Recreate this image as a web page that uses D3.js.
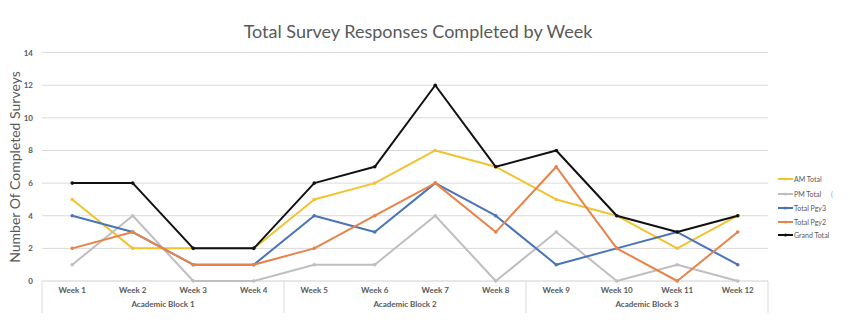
<!DOCTYPE html>
<html><head><meta charset="utf-8">
<script src="https://cdnjs.cloudflare.com/ajax/libs/d3/7.8.5/d3.min.js"></script>
<style>body{margin:0;background:#fff;}svg{display:block;font-family:Lato,"Open Sans",sans-serif;}</style>
</head><body><svg id="c" width="850" height="330"></svg>
<script>
const weeks = ["Week 1","Week 2","Week 3","Week 4","Week 5","Week 6","Week 7","Week 8","Week 9","Week 10","Week 11","Week 12"];
const blocks = ["Academic Block 1","Academic Block 2","Academic Block 3"];
const amTotal   = [5,2,2,2,5,6,8,7,5,4,2,4];
const pmTotal   = [1,4,0,0,1,1,4,0,3,0,1,0];
const pgy3      = [4,3,1,1,4,3,6,4,1,2,3,1];
const pgy2      = [2,3,1,1,2,4,6,3,7,2,0,3];
const grandTotal= [6,6,2,2,6,7,12,7,8,4,3,4];
const yTicks = [0,2,4,6,8,10,12,14];
const seriesNames = ["AM Total","PM Total","Total Pgy3","Total Pgy2","Grand Total"];
const seriesColors = ["#F0C430","#BFBFBF","#4A73B8","#E8834A","#111111"];
const seriesData = [amTotal,pmTotal,pgy3,pgy2,grandTotal];

const svg = d3.select("#c");
const L=42, R=768, T=52.6, B=281;
const x = d3.scaleBand().domain(weeks).range([L,R]);
const y = d3.scaleLinear().domain([0,14]).range([B,T]);

svg.append("text").attr("x",418).attr("y",38).attr("text-anchor","middle")
  .attr("font-size",18).attr("fill","#595959").attr("font-weight",400)
  .text("Total Survey Responses Completed by Week");

// gridlines
svg.append("g").selectAll("line").data(yTicks.filter(d=>d>0)).join("line")
  .attr("x1",L).attr("x2",R).attr("y1",d=>y(d)).attr("y2",d=>y(d))
  .attr("stroke","#D9D9D9").attr("stroke-width",1);

// y tick labels
svg.append("g").selectAll("text").data(yTicks).join("text")
  .attr("x",33).attr("y",d=>y(d)+3).attr("text-anchor","end")
  .attr("font-size",8).attr("fill","#595959").attr("font-weight",700).text(d=>d);

svg.append("text").attr("transform","translate(20,"+(167)+") rotate(-90)")
  .attr("text-anchor","middle").attr("font-size",14).attr("fill","#595959")
  .text("Number Of Completed Surveys");

// x axis
svg.append("line").attr("x1",L).attr("x2",R).attr("y1",B).attr("y2",B).attr("stroke","#D0D0D0");
const sepIdx=[0,4,8,12];
svg.append("g").selectAll("line").data(sepIdx).join("line")
  .attr("x1",d=>L+d*x.bandwidth()).attr("x2",d=>L+d*x.bandwidth())
  .attr("y1",B).attr("y2",313).attr("stroke","#D9D9D9");
svg.append("g").selectAll("text").data(weeks).join("text")
  .attr("x",d=>x(d)+x.bandwidth()/2).attr("y",293).attr("text-anchor","middle")
  .attr("font-size",8).attr("font-weight",700).attr("fill","#595959").text(d=>d);
svg.append("g").selectAll("text").data(blocks).join("text")
  .attr("x",(d,i)=>L+(i*4+2)*x.bandwidth()).attr("y",307).attr("text-anchor","middle")
  .attr("font-size",8).attr("font-weight",700).attr("fill","#595959").text(d=>d);

// lines
const line = d3.line().x((d,i)=>x(weeks[i])+x.bandwidth()/2).y(d=>y(d));
seriesData.forEach((s,k)=>{
  svg.append("path").datum(s).attr("d",line).attr("fill","none")
    .attr("stroke",seriesColors[k]).attr("stroke-width",2).attr("stroke-linejoin","round");
  svg.append("g").selectAll("circle").data(s).join("circle")
    .attr("cx",(d,i)=>x(weeks[i])+x.bandwidth()/2).attr("cy",d=>y(d)).attr("r",1.8)
    .attr("fill",seriesColors[k]);
});

// legend
const lg = svg.append("g");
const ly=[179,194,208,222,235];
seriesNames.forEach((n,k)=>{
  lg.append("line").attr("x1",778).attr("x2",793).attr("y1",ly[k]).attr("y2",ly[k])
    .attr("stroke",seriesColors[k]).attr("stroke-width",2);
  lg.append("circle").attr("cx",785.5).attr("cy",ly[k]).attr("r",1.5).attr("fill",seriesColors[k]);
  lg.append("text").attr("x",794).attr("y",ly[k]+2.5).attr("font-size",7)
    .attr("fill","#595959").text(n);
});
lg.append("text").attr("x",831).attr("y",196.5).attr("font-size",7).attr("fill","#999").text("(");
</script></body></html>
